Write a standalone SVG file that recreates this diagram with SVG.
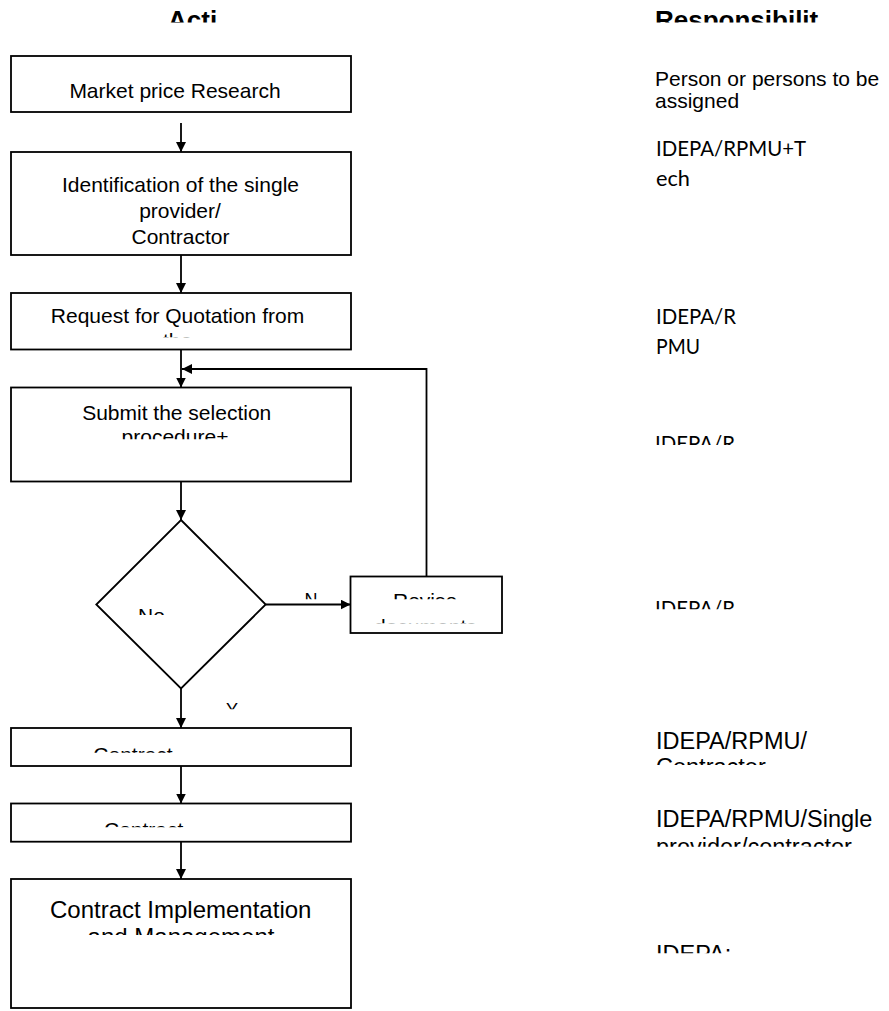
<svg xmlns="http://www.w3.org/2000/svg" width="889" height="1011" viewBox="0 0 889 1011">
  <style>
    .box { fill: #ffffff; stroke: #000000; stroke-width: 1.8; }
    .wire { fill: none; stroke: #000000; stroke-width: 1.8; }
    .hd { font-family: "Liberation Sans", Arial, sans-serif; font-weight: bold; font-size: 26px; fill: #000000; }
    .t { font-family: "Liberation Sans", Arial, sans-serif; font-size: 21px; fill: #000000; }
    .tl { font-family: "Liberation Sans", Arial, sans-serif; font-size: 24px; fill: #000000; }
    .r { font-family: "Liberation Sans", Arial, sans-serif; font-size: 23.5px; fill: #000000; }
    .c { font-family: Lato, "Open Sans", sans-serif; font-size: 22px; fill: #000000; }
    .s { font-family: "Liberation Sans", Arial, sans-serif; font-size: 18px; fill: #000000; }
    .m { text-anchor: middle; }
  </style>
  <defs>
    <marker id="arrow" markerUnits="userSpaceOnUse" markerWidth="11" markerHeight="10" refX="10" refY="5" orient="auto">
      <path d="M0,0 L10,5 L0,10 Z" fill="#000000"/>
    </marker>
    <!-- text frames that cut their lines short -->
    <clipPath id="clipHead"><rect x="0" y="0" width="889" height="22.6"/></clipPath>
    <clipPath id="clipQuote"><rect x="0" y="0" width="889" height="337.3"/></clipPath>
    <clipPath id="clipSubmit"><rect x="0" y="0" width="889" height="439.3"/></clipPath>
    <clipPath id="clipR1"><rect x="0" y="0" width="889" height="445"/></clipPath>
    <clipPath id="clipDecision"><rect x="0" y="0" width="889" height="615"/></clipPath>
    <clipPath id="clipN"><rect x="0" y="0" width="889" height="599.3"/></clipPath>
    <clipPath id="clipRevise1"><rect x="0" y="0" width="889" height="599.3"/></clipPath>
    <clipPath id="clipRevise2"><rect x="0" y="0" width="889" height="623.3"/></clipPath>
    <clipPath id="clipR2"><rect x="0" y="0" width="889" height="609.3"/></clipPath>
    <clipPath id="clipY"><rect x="0" y="0" width="889" height="709.3"/></clipPath>
    <clipPath id="clipC1"><rect x="0" y="0" width="889" height="752.7"/></clipPath>
    <clipPath id="clipRC1"><rect x="0" y="0" width="889" height="765"/></clipPath>
    <clipPath id="clipC2"><rect x="0" y="0" width="889" height="827.3"/></clipPath>
    <clipPath id="clipRC2"><rect x="0" y="0" width="889" height="846.7"/></clipPath>
    <clipPath id="clipImpl"><rect x="0" y="0" width="889" height="935"/></clipPath>
    <clipPath id="clipR3"><rect x="0" y="0" width="889" height="953.3"/></clipPath>
  </defs>

  <rect x="0" y="0" width="889" height="1011" fill="#ffffff"/>

  <!-- column headings -->
  <g id="headings">
    <text class="hd" x="168" y="28.6" clip-path="url(#clipHead)">Acti</text>
    <text class="hd" x="655" y="28.6" clip-path="url(#clipHead)">Responsibilit</text>
  </g>

  <!-- flow connectors -->
  <g id="connectors">
    <line class="wire" x1="181" y1="123" x2="181" y2="152" marker-end="url(#arrow)"/>
    <line class="wire" x1="181" y1="255" x2="181" y2="293" marker-end="url(#arrow)"/>
    <line class="wire" x1="181" y1="349.5" x2="181" y2="387.5" marker-end="url(#arrow)"/>
    <line class="wire" x1="181" y1="481.5" x2="181" y2="520" marker-end="url(#arrow)"/>
    <line class="wire" x1="265.7" y1="604.5" x2="350.5" y2="604.5" marker-end="url(#arrow)"/>
    <polyline class="wire" points="426.5,576.5 426.5,369 182,369" marker-end="url(#arrow)"/>
    <line class="wire" x1="181" y1="688.5" x2="181" y2="728" marker-end="url(#arrow)"/>
    <line class="wire" x1="181" y1="766" x2="181" y2="803.5" marker-end="url(#arrow)"/>
    <line class="wire" x1="181" y1="841.7" x2="181" y2="879" marker-end="url(#arrow)"/>
    <text class="s" x="304.5" y="605.6" clip-path="url(#clipN)">N</text>
    <text class="s" x="226" y="715.6" clip-path="url(#clipY)">Y</text>
  </g>

  <!-- activity column -->
  <g id="market-research">
    <rect class="box" x="11" y="56" width="340" height="56"/>
    <text class="t m" x="175" y="98">Market price Research</text>
  </g>

  <g id="identification">
    <rect class="box" x="11" y="152" width="340" height="103"/>
    <text class="t m" x="180.5" y="191.5">Identification of the single</text>
    <text class="t m" x="180" y="217.5">provider/</text>
    <text class="t m" x="180.5" y="243.5">Contractor</text>
  </g>

  <g id="request-quotation">
    <rect class="box" x="11" y="293" width="340" height="56.5"/>
    <text class="t m" x="177.5" y="322.7">Request for Quotation from</text>
    <text class="t m" x="177.5" y="347.7" clip-path="url(#clipQuote)">the</text>
  </g>

  <g id="submit-selection">
    <rect class="box" x="11" y="387.5" width="340" height="94"/>
    <text class="t m" x="176.7" y="420">Submit the selection</text>
    <text class="t m" x="175" y="444.2" clip-path="url(#clipSubmit)">procedure+</text>
  </g>

  <g id="decision">
    <polygon class="box" points="181,520 265.7,604.5 181,688.5 96.3,604.5"/>
    <text class="t" x="138" y="623.3" clip-path="url(#clipDecision)">No</text>
  </g>

  <g id="revise-documents">
    <rect class="box" x="350.5" y="576.5" width="151.5" height="56.5"/>
    <text class="t" x="393" y="607.7" clip-path="url(#clipRevise1)">Revise</text>
    <text class="t" x="374" y="634.3" clip-path="url(#clipRevise2)">documents</text>
  </g>

  <g id="contract-1">
    <rect class="box" x="11" y="728" width="340" height="38"/>
    <text class="t" x="93.3" y="762" clip-path="url(#clipC1)">Contract</text>
  </g>

  <g id="contract-2">
    <rect class="box" x="11" y="803.5" width="340" height="38.2"/>
    <text class="t" x="104" y="837" clip-path="url(#clipC2)">Contract</text>
  </g>

  <g id="implementation">
    <rect class="box" x="11" y="879" width="340" height="129"/>
    <text class="tl m" x="180.7" y="917.7">Contract Implementation</text>
    <text class="tl m" x="181" y="945.3" clip-path="url(#clipImpl)">and Management</text>
  </g>

  <!-- responsibility column -->
  <g id="resp-research">
    <text class="t" x="655" y="86">Person or persons to be</text>
    <text class="t" x="655" y="108">assigned</text>
  </g>

  <g id="resp-identification">
    <text class="c" x="656" y="156" textLength="150" lengthAdjust="spacingAndGlyphs">IDEPA/RPMU+T</text>
    <text class="c" x="656" y="186" textLength="34" lengthAdjust="spacingAndGlyphs">ech</text>
  </g>

  <g id="resp-quotation">
    <text class="c" x="656" y="324" textLength="80" lengthAdjust="spacingAndGlyphs">IDEPA/R</text>
    <text class="c" x="656" y="354" textLength="44" lengthAdjust="spacingAndGlyphs">PMU</text>
  </g>

  <g id="resp-submit">
    <text class="c" x="655" y="450.5" textLength="80" lengthAdjust="spacingAndGlyphs" clip-path="url(#clipR1)">IDEPA/R</text>
  </g>

  <g id="resp-decision">
    <text class="c" x="655" y="615.5" textLength="80" lengthAdjust="spacingAndGlyphs" clip-path="url(#clipR2)">IDEPA/R</text>
  </g>

  <g id="resp-contract-1">
    <text class="r" x="656" y="748.5">IDEPA/RPMU/</text>
    <text class="r" x="656" y="775.3" clip-path="url(#clipRC1)">Contractor</text>
  </g>

  <g id="resp-contract-2">
    <text class="r" x="656" y="827">IDEPA/RPMU/Single</text>
    <text class="r" x="656" y="855" clip-path="url(#clipRC2)">provider/contractor</text>
  </g>

  <g id="resp-implementation">
    <text class="r" x="656" y="962" clip-path="url(#clipR3)">IDEPA:</text>
  </g>
</svg>
